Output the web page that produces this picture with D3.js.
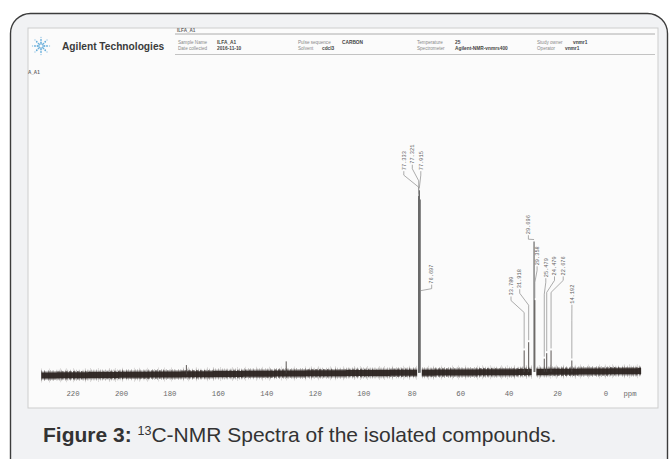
<!DOCTYPE html>
<html><head><meta charset="utf-8">
<script src="https://cdn.jsdelivr.net/npm/d3@7"></script>
<style>
html,body{margin:0;padding:0;background:#fff;}
svg{display:block;}
</style></head>
<body>
<svg id="chart" width="672" height="459"></svg>
<script>
// ---------------- data ----------------
const ppmTicks = [220, 200, 180, 160, 140, 120, 100, 80, 60, 40, 20, 0];
const spectrumRange = [233, -14.5];            // ppm span of the printed trace
const baselinePpm = [233, 120, 40, -14.5];      // baseline drift
const baselineVal = [-1.2, 0, 0.6, 1.2];
const peakPpm = [173.2, 132.0, 77.333, 77.321, 77.015, 76.697, 33.780, 31.918, 29.696, 29.358, 25.479, 24.470, 22.676, 14.102];
const peakInt = [4.5, 6.5, 97, 96, 100, 95, 12.5, 17, 72, 40, 8, 11, 12.5, 7];
const labelText = ["77.333", "77.321", "77.015", "76.697", "33.780", "31.918", "29.696", "29.358", "25.479", "24.470", "22.676", "14.102"];
const labelPpm = [77.333, 77.321, 77.015, 76.697, 33.780, 31.918, 29.696, 29.358, 25.479, 24.470, 22.676, 14.102];
const labelAnchor = [97, 96, 100, 44, 12.5, 17, 72, 40, 8, 11, 12.5, 7];
const labelLevel = [111, 114.5, 111, 49, 42.5, 46.5, 76, 59, 52.5, 53.5, 53.5, 38];
const headerFields = [
  ["Sample Name", "ILFA_A1", "Date collected", "2016-11-10"],
  ["Pulse sequence", "CARBON", "Solvent", "cdcl3"],
  ["Temperature", "25", "Spectrometer", "Agilent-NMR-vnmrs400"],
  ["Study owner", "vnmr1", "Operator", "vnmr1"]
];
const captionBold = "Figure 3:";
const captionSup = "13";
const captionRest = "C-NMR Spectra of the isolated compounds.";

// ---------------- layout ----------------
const svg = d3.select("#chart");
svg.append("rect").attr("x", 10.5).attr("y", 13.5).attr("width", 657).attr("height", 470)
  .attr("rx", 20).attr("fill", "#f1f2f4").attr("stroke", "#3c3c3c").attr("stroke-width", 1.4);
svg.append("rect").attr("x", 28).attr("y", 28).attr("width", 630).attr("height", 380)
  .attr("fill", "#fbfbfb").attr("stroke", "#cdcdcd").attr("stroke-width", 1);

const x = d3.scaleLinear().domain([220, 0]).range([73, 606]);
const y = d3.scaleLinear().domain([0, 100]).range([373.3, 190.3]);
const base = d3.scaleLinear().domain(baselinePpm).range(baselineVal);

// header
const hdr = svg.append("g");
hdr.append("line").attr("x1", 175).attr("x2", 655).attr("y1", 34).attr("y2", 34).attr("stroke", "#9a9a9a").attr("stroke-width", 0.8);
hdr.append("line").attr("x1", 175).attr("x2", 655).attr("y1", 54.5).attr("y2", 54.5).attr("stroke", "#b5b5b5").attr("stroke-width", 0.8);
hdr.append("text").attr("x", 177).attr("y", 32.3).text("ILFA_A1")
  .attr("font-family", "Liberation Sans, Arial").attr("font-size", 4.6).attr("font-weight", "bold").attr("fill", "#666");
const logo = hdr.append("g").attr("transform", "translate(41,46)");
d3.range(8).forEach(i => {
  const a = i * Math.PI / 4;
  [3.5, 6, 8.5].forEach((r, k) => {
    logo.append("circle").attr("cx", Math.cos(a) * r).attr("cy", Math.sin(a) * r)
      .attr("r", k === 2 ? 0.7 : 0.9).attr("fill", "#5aa7d8").attr("opacity", k === 2 ? 0.6 : 0.9);
  });
});
logo.append("circle").attr("r", 2.2).attr("fill", "none").attr("stroke", "#5aa7d8").attr("stroke-width", 1);
hdr.append("text").attr("x", 62).attr("y", 49.5).text("Agilent Technologies")
  .attr("font-family", "Liberation Sans, Arial").attr("font-size", 10.2).attr("font-weight", "bold").attr("fill", "#3a3a3a");
const colX = [178, 298, 417, 537];
const valX = [[217, 217], [342, 322], [455, 455], [573, 565]];
headerFields.forEach((f, i) => {
  [[f[0], f[1], 43.5, 0], [f[2], f[3], 50, 1]].forEach(([lab, val, yy, r]) => {
    hdr.append("text").attr("x", colX[i]).attr("y", yy).text(lab)
      .attr("font-family", "Liberation Sans, Arial").attr("font-size", 4.6).attr("fill", "#8a8a8a");
    hdr.append("text").attr("x", valX[i][r]).attr("y", yy).text(val)
      .attr("font-family", "Liberation Sans, Arial").attr("font-size", 4.8).attr("font-weight", "bold").attr("fill", "#444");
  });
});
svg.append("text").attr("x", 28).attr("y", 73.5).text("A_A1")
  .attr("font-family", "Liberation Sans, Arial").attr("font-size", 4.6).attr("font-weight", "bold").attr("fill", "#666");

// ---------------- spectrum ----------------
const sp = svg.append("g");
const bandPts = d3.range(spectrumRange[0], spectrumRange[1] - 0.01, -0.5);
const bandLine = d3.line().x(p => x(p)).y(p => y(base(p)));
const bandStyles = [
  {w: 14, dash: "0.5 7 0.5 11 0.5 5", op: 0.3},
  {w: 11, dash: "0.5 2.1 0.6 3.3 0.5 1.7", op: 0.5},
  {w: 8.5, dash: "0.7 0.6 0.5 1.0 0.8 0.5", op: 0.85},
  {w: 6, dash: null, op: 0.95}
];
bandStyles.forEach(s => {
  sp.append("path").datum(bandPts).attr("d", bandLine).attr("fill", "none")
    .attr("stroke", "#2d2522").attr("stroke-width", s.w).attr("opacity", s.op)
    .attr("stroke-dasharray", s.dash);
});
[77.0, 29.7].forEach(p => {
  sp.append("rect").attr("x", x(p) - 2.3).attr("width", 4.6)
    .attr("y", y(base(p)) - 7).attr("height", 13).attr("fill", "#fbfbfb");
});
peakPpm.forEach((p, i) => {
  sp.append("line").attr("x1", x(p)).attr("x2", x(p))
    .attr("y1", y(base(p))).attr("y2", y(peakInt[i]))
    .attr("stroke", peakInt[i] > 50 ? "#6a6a6a" : "#4a4442").attr("stroke-width", peakInt[i] > 50 ? 1.2 : 0.9);
});

// labels
const groups = [
  {idx: [0, 1, 2], gap: 8.5, shift: -6.6},
  {idx: [3], gap: 0, shift: 11.5},
  {idx: [4, 5, 6, 7, 8, 9, 10, 11], gap: 8.7, shift: -0.5}
];
const lab = svg.append("g");
groups.forEach(g => {
  const mean = d3.mean(g.idx, i => x(labelPpm[i]));
  g.idx.forEach((i, k) => {
    const tx = mean + g.shift + (k - (g.idx.length - 1) / 2) * g.gap;
    const ty = y(labelLevel[i]);
    const px = x(labelPpm[i]);
    const ay = y(labelAnchor[i]);
    const d1 = ty + 5;
    const kk = Math.max(0, Math.min(12, ay - 2 - d1));
    lab.append("path")
      .attr("d", `M${tx},${ty + 1}L${tx},${d1}L${px},${d1 + kk}L${px},${Math.max(d1 + kk, ay - 2)}`)
      .attr("fill", "none").attr("stroke", "#8a8a8a").attr("stroke-width", 0.7);
    lab.append("text").attr("transform", `translate(${tx + 1.7},${ty}) rotate(-90)`)
      .text(labelText[i]).attr("font-family", "Liberation Mono, monospace")
      .attr("font-size", 5.3).attr("fill", "#5e5e5e");
  });
});

// axis labels
const ax = svg.append("g");
ax.selectAll("text.tick").data(ppmTicks).enter().append("text")
  .attr("x", d => x(d)).attr("y", 396).attr("text-anchor", "middle").text(d => d)
  .attr("font-family", "Liberation Mono, monospace").attr("font-size", 7.3).attr("fill", "#6a6a6a");
ax.append("text").attr("x", 630).attr("y", 396).attr("text-anchor", "middle").text("ppm")
  .attr("font-family", "Liberation Mono, monospace").attr("font-size", 7.3).attr("fill", "#6a6a6a");

// caption
const cap = svg.append("text").attr("x", 43).attr("y", 441.5)
  .attr("font-family", "Liberation Sans, Arial, sans-serif").attr("font-size", 21).attr("fill", "#333");
cap.append("tspan").attr("font-weight", "bold").text(captionBold + " ");
cap.append("tspan").attr("font-size", 12.5).attr("dy", -7).text(captionSup);
cap.append("tspan").attr("dy", 7).text(captionRest);
</script>
</body></html>
